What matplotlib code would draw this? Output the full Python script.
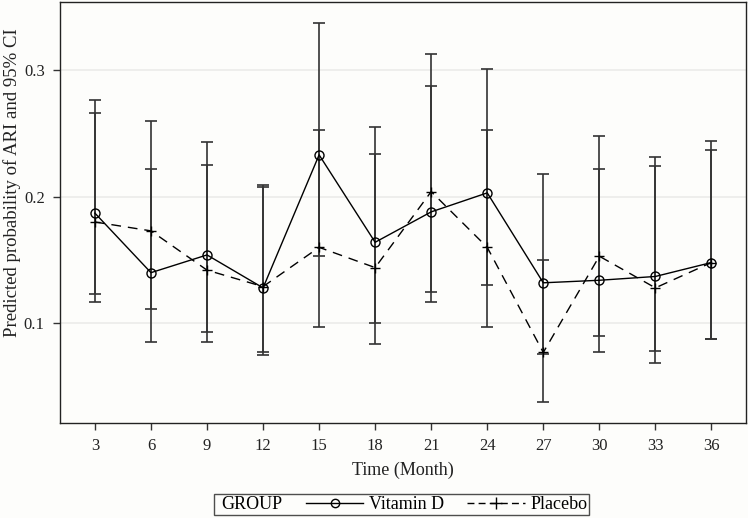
import matplotlib
matplotlib.use("Agg")
import matplotlib.pyplot as plt
from matplotlib.lines import Line2D

# values
months = [3, 6, 9, 12, 15, 18, 21, 24, 27, 30, 33, 36]

vitd = [0.187, 0.140, 0.154, 0.128, 0.233, 0.164, 0.188, 0.203, 0.132, 0.134, 0.137, 0.148]
vitd_lo = [0.123, 0.085, 0.093, 0.077, 0.153, 0.100, 0.117, 0.130, 0.076, 0.077, 0.078, 0.088]
vitd_hi = [0.276, 0.222, 0.243, 0.209, 0.337, 0.255, 0.287, 0.301, 0.218, 0.222, 0.231, 0.237]

placebo = [0.180, 0.173, 0.142, 0.129, 0.160, 0.144, 0.204, 0.160, 0.077, 0.153, 0.128, 0.148]
placebo_lo = [0.117, 0.111, 0.085, 0.075, 0.097, 0.084, 0.125, 0.097, 0.038, 0.090, 0.069, 0.088]
placebo_hi = [0.266, 0.260, 0.225, 0.208, 0.253, 0.234, 0.313, 0.253, 0.150, 0.248, 0.224, 0.244]

yticks = [0.1, 0.2, 0.3]

plt.rcParams['font.family'] = ['Liberation Serif', 'DejaVu Serif']

bg = '#fdfdfb'
fig = plt.figure(figsize=(7.48, 5.18), dpi=100, facecolor=bg)
ax = fig.add_axes([0.0802, 0.1834, 0.9171, 0.8127], facecolor=bg)

# confidence intervals first, so the lines sit on top
for est, lo, hi in [(vitd, vitd_lo, vitd_hi), (placebo, placebo_lo, placebo_hi)]:
    err = [[e - l for e, l in zip(est, lo)], [h - e for e, h in zip(est, hi)]]
    ax.errorbar(months, est, yerr=err, fmt='none', ecolor='#333333',
                elinewidth=1.2, capsize=4.4, capthick=1.2, zorder=2)

ax.plot(months, vitd, color='black', lw=1.0, marker='o', ms=6.5,
        mfc='none', mec='black', mew=1.0, zorder=3)
ax.plot(months, placebo, color='black', lw=1.0, ls=(0, (7, 5)), marker='+',
        ms=7, mew=1.0, zorder=3)

ax.set_xlim(1.13, 37.85)
ax.set_ylim(0.0213, 0.3537)
ax.set_xticks(months)
ax.set_yticks(yticks)
ax.set_yticklabels(['0.1', '0.2', '0.3'])
ax.yaxis.grid(True, color='#ebebe9', lw=1.2)
ax.set_axisbelow(True)
ax.tick_params(direction='out', length=5, width=1, labelsize=12, pad=6, colors='#333333')
ax.tick_params(labelcolor='#222222')
for s in ax.spines.values():
    s.set_linewidth(1.0)
    s.set_color('#222222')

ax.set_xlabel('Time (Month)', fontsize=13, labelpad=5, color='#222222')
ax.set_ylabel('Predicted probability of ARI and 95% CI', fontsize=13.5, color='#222222')
# the original sits a little above the middle of the axis
ax.yaxis.set_label_coords(-0.057, 0.572)

handles = [
    Line2D([], [], linestyle='none'),
    Line2D([], [], color='black', lw=1.0, marker='o', ms=6, mfc='none', mec='black'),
    Line2D([], [], color='black', lw=1.0, ls=(0, (5, 3)), marker='+', ms=8),
]
labels = ['GROUP', 'Vitamin D', 'Placebo']
leg = fig.legend(handles, labels, loc='center', bbox_to_anchor=(0.537, 0.0255), ncol=3,
                 frameon=True, fancybox=False, edgecolor='#222222', facecolor=bg,
                 fontsize=13, handlelength=3.2, handletextpad=0.3, columnspacing=1.3,
                 borderpad=0.1, borderaxespad=0)
leg.get_frame().set_linewidth(1.0)

# the "GROUP" entry has no symbol, so drop its empty handle slot
first_item = leg._legend_handle_box.get_children()[0].get_children()[0]
first_item.get_children()[0].width = 0

fig.savefig('out.png', dpi=100, facecolor=bg)
